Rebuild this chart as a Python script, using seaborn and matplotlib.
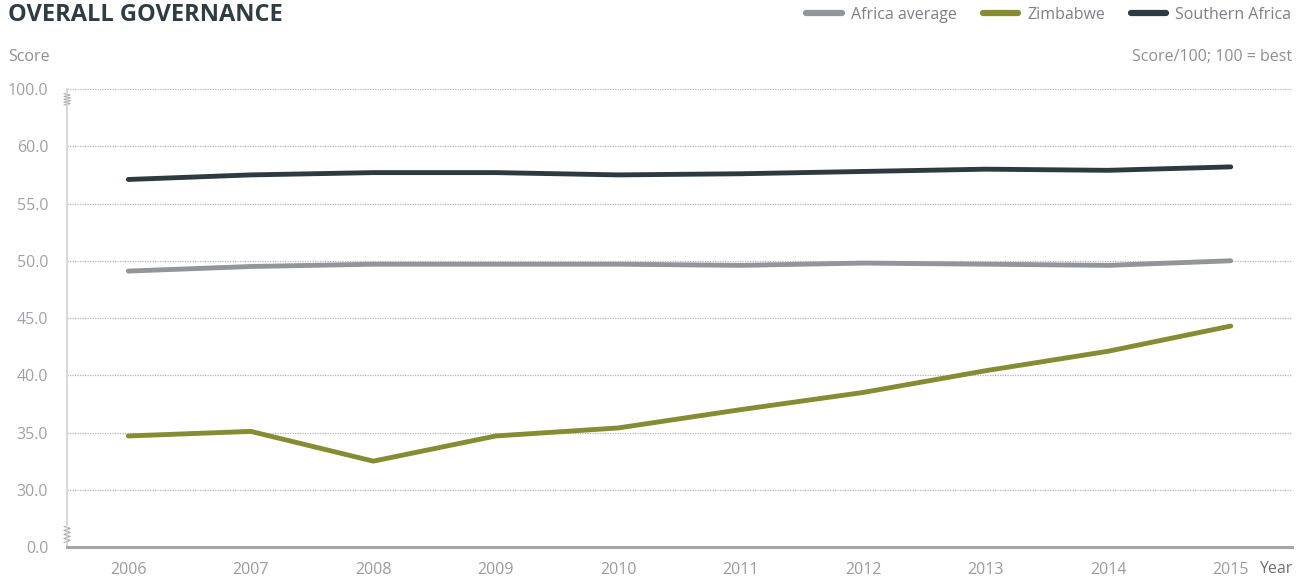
import pandas as pd
import seaborn as sns
import matplotlib.pyplot as plt
from matplotlib.lines import Line2D

# values
years = [2006, 2007, 2008, 2009, 2010, 2011, 2012, 2013, 2014, 2015]
africa_average = [49.1, 49.5, 49.7, 49.7, 49.7, 49.6, 49.8, 49.7, 49.6, 50.0]
zimbabwe = [34.7, 35.1, 32.5, 34.7, 35.4, 37.0, 38.5, 40.4, 42.1, 44.3]
southern_africa = [57.1, 57.5, 57.7, 57.7, 57.5, 57.6, 57.8, 58.0, 57.9, 58.2]

series_names = ['Africa average', 'Zimbabwe', 'Southern Africa']
colors = ['#949599', '#858d33', '#2d3b41']

# axis is broken: 0 and 100 are drawn where 25 and 65 would sit
tick_pos = [25, 30, 35, 40, 45, 50, 55, 60, 65]
tick_labels = ['0.0', '30.0', '35.0', '40.0', '45.0', '50.0', '55.0', '60.0', '100.0']

df = pd.DataFrame({
    'Year': [str(y) for y in years] * 3,
    'Score': africa_average + zimbabwe + southern_africa,
    'Series': [series_names[0]] * 10 + [series_names[1]] * 10 + [series_names[2]] * 10,
})

sns.set_style('white')
plt.rcParams['font.family'] = ['Open Sans', 'DejaVu Sans']

fig = plt.figure(figsize=(13.07, 5.83), dpi=100)
ax = fig.add_axes([0.0513, 0.0617, 0.9372, 0.7856])

sns.lineplot(data=df, x='Year', y='Score', hue='Series', palette=colors,
             linewidth=3.5, ax=ax, legend=False, sort=False,
             solid_capstyle='round', solid_joinstyle='round')

ax.set_xlim(-0.5, 9.5)
ax.set_ylim(25, 65)
ax.set_yticks(tick_pos)
ax.set_yticklabels(tick_labels)
ax.set_xticks(range(10))
ax.set_xticklabels([str(y) for y in years])
ax.set_xticks([i - 0.5 for i in range(11)], minor=True)
ax.tick_params(axis='x', which='major', length=0, pad=11, labelsize=11.5, labelcolor='#9a9b9e')
ax.tick_params(axis='x', which='minor', length=5, width=1, color='#a5a6a9', direction='out')
ax.tick_params(axis='y', length=0, pad=13.5, labelsize=11.5, labelcolor='#a0a1a4')

for v in tick_pos[1:]:
    ax.axhline(v, color='#b5b6b8', linewidth=0.9, linestyle=(0, (1, 1)), zorder=0)

for s in ['top', 'right']:
    ax.spines[s].set_visible(False)
ax.spines['bottom'].set_color('#a5a6a9')
ax.spines['bottom'].set_linewidth(2.2)
ax.spines['left'].set_color('#d0d1d3')
ax.spines['left'].set_linewidth(1.2)
ax.set_xlabel('')
ax.set_ylabel('')

# zigzag break marks on the y axis
def zigzag(y0, y1, n=8):
    ys = [y0 + (y1 - y0) * i / n for i in range(n + 1)]
    xs = [-0.0025 if i % 2 == 0 else 0.0025 for i in range(n + 1)]
    ax.plot(xs, ys, transform=ax.transAxes, color='#a5a6a9', lw=0.8, clip_on=False)

zigzag(0.965, 0.99)
zigzag(0.01, 0.045)

fig.text(0.006, 0.975, 'OVERALL GOVERNANCE', fontsize=17, fontweight='bold',
         color='#2f3c42', va='center', ha='left')
fig.text(0.006, 0.903, 'Score', fontsize=11.5, color='#8e8f92', va='center', ha='left')
fig.text(0.9885, 0.903, 'Score/100; 100 = best', fontsize=11.5, color='#8e8f92',
         va='center', ha='right')
fig.text(0.9885, 0.024, 'Year', fontsize=11.5, color='#6f7073', va='center', ha='right')

handles = [Line2D([], [], color=c, lw=4.5, solid_capstyle='round') for c in colors]
fig.legend(handles, series_names, loc='center right', bbox_to_anchor=(0.993, 0.975),
           ncol=3, frameon=False, fontsize=11.5, handlelength=2.2, handletextpad=0.6,
           columnspacing=1.6, labelcolor='#7f8083', borderaxespad=0)

fig.savefig('out.png', dpi=100)
